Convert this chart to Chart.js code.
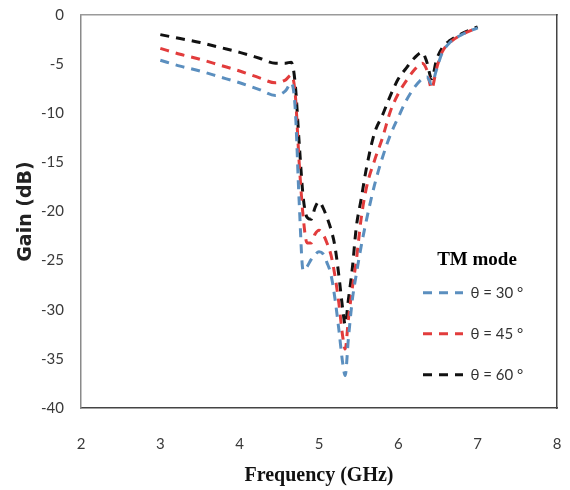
<!DOCTYPE html>
<html>
<head>
<meta charset="utf-8">
<script src="https://cdn.jsdelivr.net/npm/chart.js@4.4.0/dist/chart.umd.min.js"></script>
<style>
  html, body { margin: 0; padding: 0; background: #ffffff; }
  #wrap { width: 570px; height: 490px; }
</style>
</head>
<body>
<div id="wrap"><canvas id="c" width="570" height="490"></canvas></div>
<script>
// ---- data ----
const freq = [3.0, 3.25, 3.5, 3.75, 4.0, 4.25, 4.45, 4.58, 4.65, 4.7, 4.75, 4.8, 4.85, 4.9, 4.95, 5.0, 5.05, 5.1, 5.15, 5.2, 5.25, 5.3, 5.33, 5.37, 5.42, 5.47, 5.53, 5.6, 5.7, 5.8, 5.9, 6.0, 6.1, 6.2, 6.3, 6.36, 6.42, 6.48, 6.55, 6.65, 6.8, 7.0];
const gain30 = [-4.6, -5.2, -5.7, -6.3, -6.9, -7.6, -8.2, -7.7, -6.9, -9.5, -19.0, -26.0, -25.6, -24.9, -24.4, -24.1, -24.3, -25.2, -26.4, -28.8, -32.0, -35.5, -36.7, -33.0, -29.0, -26.4, -23.6, -20.8, -17.3, -14.5, -12.2, -10.4, -8.7, -7.4, -6.5, -6.3, -7.0, -5.6, -3.9, -2.8, -2.0, -1.3];
const gain45 = [-3.4, -4.0, -4.5, -5.1, -5.7, -6.4, -6.9, -6.6, -6.1, -8.0, -15.0, -20.5, -23.2, -23.2, -22.3, -21.9, -22.3, -23.2, -24.4, -26.5, -29.3, -32.8, -34.0, -31.0, -27.8, -25.0, -20.8, -17.5, -14.8, -12.5, -9.8, -8.0, -6.7, -5.6, -4.9, -5.6, -7.5, -5.5, -3.8, -2.8, -2.0, -1.3];
const gain60 = [-2.0, -2.4, -2.8, -3.3, -3.8, -4.4, -4.9, -4.9, -4.8, -7.0, -13.0, -18.5, -20.6, -20.8, -19.6, -19.0, -19.6, -20.6, -21.8, -23.5, -26.5, -30.0, -31.5, -29.0, -25.8, -21.6, -18.8, -15.5, -12.0, -10.2, -8.2, -6.5, -5.4, -4.4, -3.8, -4.8, -6.5, -4.6, -3.4, -2.6, -1.9, -1.2];
const seriesLabels = ['\u03B8 = 30 \u00B0', '\u03B8 = 45 \u00B0', '\u03B8 = 60 \u00B0'];
const xTicks = [2, 3, 4, 5, 6, 7, 8];
const yTicks = [0, -5, -10, -15, -20, -25, -30, -35, -40];

const toPts = (g) => freq.map((f, i) => ({ x: f, y: g[i] }));
const colors = ['#5b8fbf', '#e23c3c', '#111111'];
const allGains = [gain30, gain45, gain60];

const datasets = allGains.map((g, i) => ({
  label: seriesLabels[i],
  data: toPts(g),
  borderColor: colors[i],
  backgroundColor: colors[i],
  borderWidth: 3,
  borderDash: [9, 7],
  pointRadius: 0,
  pointStyle: 'line',
  fill: false,
  cubicInterpolationMode: 'monotone'
}));

const legendPlace = {
  id: 'legendPlace',
  afterUpdate(chart) {
    const lg = chart.legend;
    if (!lg) return;
    lg.left = 397; lg.top = 250.5;
    lg.width = 160; lg.right = lg.left + lg.width;
    lg.bottom = chart.height; lg.height = lg.bottom - lg.top;
    lg.adjustHitBoxes();
  }
};

const noPad = (s) => { s.paddingTop = 0; s.paddingBottom = 0; s.paddingLeft = 0; s.paddingRight = 0; };
const tickFont = { family: 'Lato, "Open Sans", sans-serif', size: 15 };

new Chart(document.getElementById('c'), {
  type: 'line',
  data: { datasets },
  options: {
    responsive: false,
    animation: false,
    devicePixelRatio: 1,
    layout: { padding: { left: 0, top: 15, right: 13, bottom: 0 } },
    plugins: {
      tooltip: { enabled: false },
      legend: {
        position: 'chartArea',
        align: 'start',
        title: {
          display: true,
          text: 'TM mode',
          color: '#000',
          font: { family: '"Liberation Serif", "Times New Roman", serif', size: 19, weight: 'bold' },
          padding: { top: 0, bottom: -14 }
        },
        labels: {
          usePointStyle: true,
          pointStyle: 'line',
          pointStyleWidth: 40,
          padding: 26,
          color: '#333',
          font: { family: 'Lato, "Open Sans", sans-serif', size: 15 },
          generateLabels: (chart) => Chart.defaults.plugins.legend.labels.generateLabels(chart).map((it) => {
            const ds = chart.data.datasets[it.datasetIndex];
            it.lineDash = ds.borderDash;
            it.lineWidth = ds.borderWidth;
            it.strokeStyle = ds.borderColor;
            return it;
          })
        }
      }
    },
    scales: {
      x: {
        type: 'linear',
        position: 'bottom',
        min: 2, max: 8,
        afterBuildTicks: (s) => { s.ticks = xTicks.map(v => ({ value: v })); },
        afterFit: (s) => { s.height = 82; noPad(s); },
        grid: { display: false, drawTicks: false },
        border: { display: true, color: '#444', width: 1.5 },
        ticks: { color: '#3a3a3a', font: tickFont, padding: 27, maxRotation: 0 },
        title: {
          display: true,
          text: 'Frequency (GHz)',
          color: '#111',
          font: { family: '"Liberation Serif", "Times New Roman", serif', size: 20, weight: 'bold' },
          padding: { top: 0, bottom: 2 }
        }
      },
      y: {
        type: 'linear',
        position: 'left',
        min: -40, max: 0,
        afterBuildTicks: (s) => { s.ticks = yTicks.slice().reverse().map(v => ({ value: v })); },
        afterFit: (s) => { s.width = 81; noPad(s); },
        grid: { display: false, drawTicks: false },
        border: { display: true, color: '#8a8a8a', width: 1.5 },
        ticks: { color: '#3a3a3a', font: tickFont, padding: 17 },
        title: {
          display: true,
          text: 'Gain (dB)',
          color: '#222',
          font: { family: '"DejaVu Sans", Verdana, sans-serif', size: 19, weight: 'bold' },
          padding: { top: 15, bottom: 0 }
        }
      },
      x2: {
        type: 'linear',
        position: 'top',
        min: 2, max: 8,
        afterFit: (s) => { s.height = 0; noPad(s); },
        grid: { display: false, drawTicks: false },
        border: { display: true, color: '#9a9a9a', width: 1.5 },
        ticks: { display: false }
      },
      y2: {
        type: 'linear',
        position: 'right',
        min: -40, max: 0,
        afterFit: (s) => { s.width = 0; noPad(s); },
        grid: { display: false, drawTicks: false },
        border: { display: true, color: '#444', width: 1.5 },
        ticks: { display: false }
      }
    }
  },
  plugins: [legendPlace]
});
</script>
</body>
</html>
